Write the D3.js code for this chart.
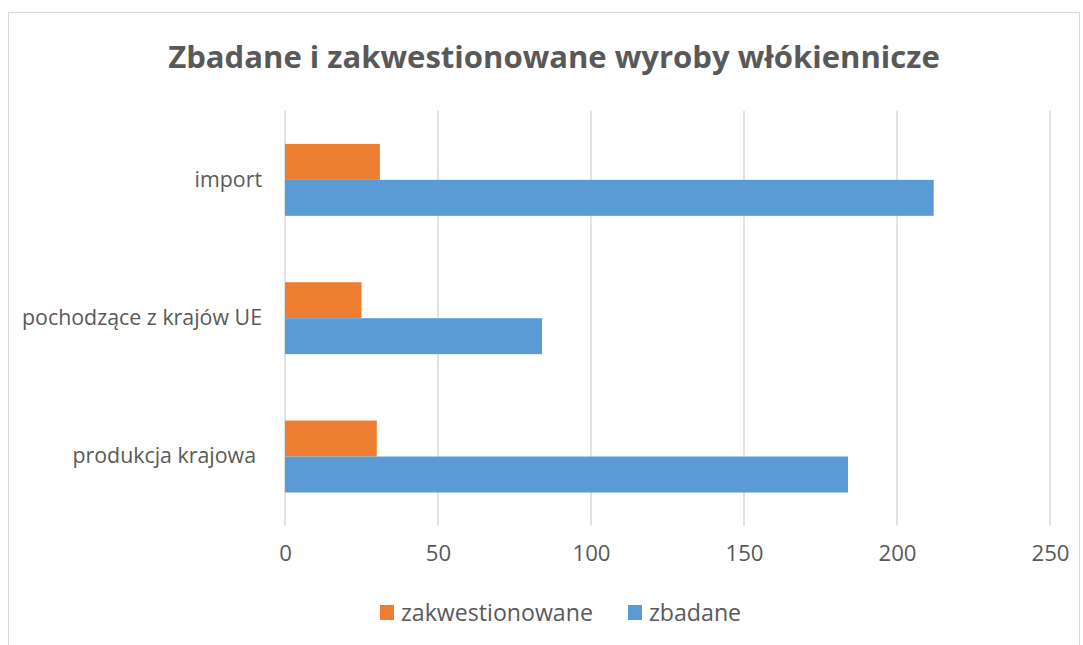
<!DOCTYPE html>
<html><head><meta charset="utf-8">
<script src="https://cdn.jsdelivr.net/npm/d3@7"></script>
<style>body{margin:0;background:#fff}svg{display:block}text{font-family:"Open Sans",sans-serif;fill:#595959}</style>
</head><body>
<svg id="c" width="1083" height="645"></svg>
<script>
const categories = ["import", "pochodzące z krajów UE", "produkcja krajowa"];
const seriesNames = ["zakwestionowane", "zbadane"];
const zakwestionowane = [31, 25, 30];
const zbadane = [212, 84, 184];
const xTicks = [0, 50, 100, 150, 200, 250];
const colors = ["#ED7D31", "#5B9BD5"];
const title = "Zbadane i zakwestionowane wyroby włókiennicze";

const svg = d3.select("#c");
svg.append("rect").attr("x", 8.5).attr("y", 12.5).attr("width", 1071).attr("height", 660)
  .attr("fill", "#fff").attr("stroke", "#d9d9d9").attr("stroke-width", 1);

function fitSize(sel, target) {
  sel.attr("font-size", 100);
  const w = sel.node().getComputedTextLength();
  return 100 * target / w;
}

const t = svg.append("text").attr("x", 554).attr("y", 68).attr("text-anchor", "middle")
  .attr("font-weight", "bold").text(title);
t.attr("font-size", fitSize(t, 772));

const x = d3.scaleLinear().domain([0, 250]).range([285, 1050]);
const y = d3.scaleBand().domain(categories).range([110.7, 525.7]).paddingInner(0.48).paddingOuter(0.24);
const ys = d3.scaleBand().domain(seriesNames).range([0, y.bandwidth()]);

const probe = svg.append("text").text("pochodzące z krajów UE");
const small = fitSize(probe, 240);
probe.remove();
const probe2 = svg.append("text").text("zakwestionowane");
const legendSize = fitSize(probe2, 192);
probe2.remove();

svg.append("g").selectAll("line").data(xTicks).join("line")
  .attr("x1", d => x(d)).attr("x2", d => x(d)).attr("y1", 110.7).attr("y2", 525.7)
  .attr("stroke", "#d9d9d9").attr("stroke-width", 1.5);

const xAxis = svg.append("g").attr("transform", "translate(0,545)")
  .call(d3.axisBottom(x).tickValues(xTicks).tickSize(0).tickPadding(0));
xAxis.select(".domain").remove();
xAxis.selectAll("text").attr("font-size", small * 1.04).attr("fill", "#595959")
  .attr("font-family", "'Open Sans',sans-serif").attr("dy", "0.71em");

const yAxis = svg.append("g").attr("transform", "translate(262,0)")
  .call(d3.axisLeft(y).tickSize(0).tickPadding(0));
yAxis.select(".domain").remove();
yAxis.selectAll("text").attr("font-size", small).attr("fill", "#595959")
  .attr("font-family", "'Open Sans',sans-serif")
  .attr("x", (d, i) => i === 2 ? -6 : 0);

const data = [zakwestionowane, zbadane];
const g = svg.append("g");
categories.forEach((c, ci) => {
  seriesNames.forEach((s, si) => {
    g.append("rect").attr("x", x(0)).attr("y", y(c) + ys(s))
      .attr("width", x(data[si][ci]) - x(0)).attr("height", ys.bandwidth())
      .attr("fill", colors[si]);
  });
});

const legendX = [380, 628];
const lg = svg.append("g");
seriesNames.forEach((s, i) => {
  lg.append("rect").attr("x", legendX[i]).attr("y", 605).attr("width", 14).attr("height", 15).attr("fill", colors[i]);
  lg.append("text").attr("x", legendX[i] + 21).attr("y", 612.5).attr("dy", "0.35em")
    .attr("font-size", legendSize).text(s);
});
</script>
</body></html>
